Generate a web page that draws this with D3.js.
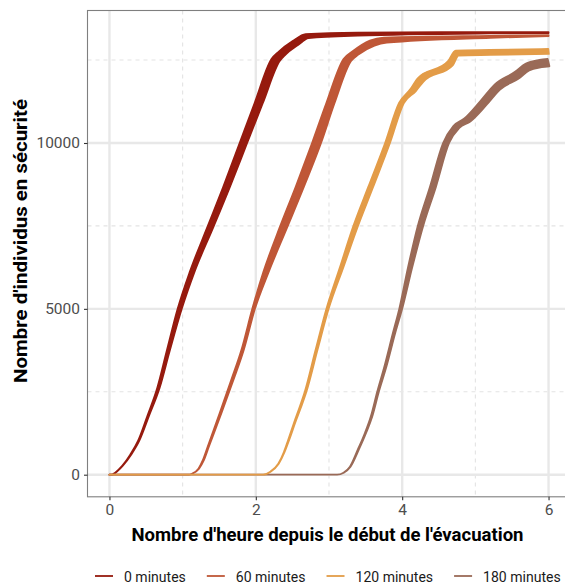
<!DOCTYPE html>
<html><head><meta charset="utf-8">
<script src="https://cdn.jsdelivr.net/npm/d3@7"></script>
<style>html,body{margin:0;padding:0;background:#fff;}svg{display:block;}</style>
</head><body>
<svg id="chart" width="565" height="584"></svg>
<script>
// ---- data ----
const scenarioLabels = ["0 minutes", "60 minutes", "120 minutes", "180 minutes"];
const xTicks = [0, 2, 4, 6];
const xMinor = [1, 3, 5];
const yTicks = [0, 5000, 10000];
const yMinor = [2500, 7500, 12500];

const hours0 = [0, 0.03, 0.08, 0.18, 0.29, 0.40, 0.53, 0.67, 0.80, 0.96, 1.13, 1.38, 1.60, 1.83, 2.04, 2.27, 2.36, 2.54, 2.70, 3.39, 5.20, 6.00];
const safe0 = [0, 0, 60, 271, 602, 1024, 1777, 2620, 3705, 5000, 6114, 7470, 8675, 10000, 11205, 12500, 12711, 13012, 13223, 13283, 13322, 13328];
const spreadH0 = [0, 0, 0.002, 0.003, 0.006, 0.008, 0.011, 0.016, 0.02, 0.028, 0.032, 0.041, 0.046, 0.051, 0.056, 0.056, 0.046, 0.036, 0.02, 0.004, 0, 0];
const spreadN0 = [0, 0, 0, 0, 0, 0, 0, 0, 0, 0, 0, 0, 0, 0, 0, 30, 45, 60, 60, 45, 20, 15];

const hours60 = [0, 1.08, 1.13, 1.22, 1.28, 1.35, 1.52, 1.68, 1.82, 1.97, 2.14, 2.38, 2.60, 2.83, 3.02, 3.25, 3.36, 3.59, 3.77, 5.20, 6.00];
const safe60 = [0, 0, 30, 181, 422, 843, 1867, 2861, 3765, 5000, 6114, 7470, 8675, 10000, 11205, 12500, 12711, 13012, 13102, 13202, 13238];
const spreadH60 = [0, 0, 0.002, 0.004, 0.007, 0.008, 0.012, 0.015, 0.016, 0.018, 0.036, 0.051, 0.056, 0.061, 0.056, 0.051, 0.041, 0.031, 0.02, 0.004, 0];
const spreadN60 = [0, 0, 0, 0, 0, 0, 0, 0, 0, 0, 0, 0, 0, 0, 0, 30, 45, 75, 75, 30, 15];

const hours120 = [0, 2.10, 2.20, 2.31, 2.39, 2.45, 2.53, 2.61, 2.68, 2.83, 2.98, 3.17, 3.36, 3.57, 3.80, 3.99, 4.15, 4.25, 4.66, 4.75, 5.20, 6.00];
const safe120 = [0, 0, 90, 331, 693, 1054, 1566, 2048, 2500, 3765, 5000, 6235, 7470, 8675, 10000, 11205, 11596, 11897, 12409, 12711, 12730, 12760];
const spreadH120 = [0, 0, 0.002, 0.003, 0.005, 0.007, 0.008, 0.01, 0.011, 0.013, 0.015, 0.023, 0.031, 0.033, 0.033, 0.033, 0.037, 0.041, 0.033, 0.02, 0.008, 0.004];
const spreadN120 = [0, 0, 0, 0, 0, 0, 0, 0, 0, 0, 0, 0, 0, 0, 0, 0, 30, 45, 60, 75, 75, 75];

const hours180 = [0, 3.11, 3.20, 3.29, 3.40, 3.50, 3.58, 3.67, 3.77, 3.89, 3.98, 4.11, 4.25, 4.42, 4.60, 4.74, 4.89, 5.11, 5.30, 5.57, 5.71, 5.89, 6.00];
const safe180 = [0, 0, 60, 241, 753, 1265, 1747, 2500, 3253, 4277, 5000, 6265, 7500, 8675, 10000, 10482, 10693, 11205, 11687, 12048, 12289, 12394, 12424];
const spreadH180 = [0, 0, 0.002, 0.004, 0.007, 0.008, 0.01, 0.011, 0.014, 0.016, 0.02, 0.029, 0.037, 0.041, 0.041, 0.041, 0.041, 0.041, 0.037, 0.033, 0.025, 0.016, 0.012];
const spreadN180 = [0, 0, 0, 0, 0, 0, 0, 0, 0, 0, 0, 0, 0, 0, 0, 30, 45, 60, 75, 90, 100, 110, 110];

const colors = ["#961A0E", "#BF5737", "#E39C48", "#9A6A57"];

// ---- build ----
const series = [
  {label: scenarioLabels[0], h: hours0, v: safe0, sh: spreadH0, sn: spreadN0, color: colors[0]},
  {label: scenarioLabels[1], h: hours60, v: safe60, sh: spreadH60, sn: spreadN60, color: colors[1]},
  {label: scenarioLabels[2], h: hours120, v: safe120, sh: spreadH120, sn: spreadN120, color: colors[2]},
  {label: scenarioLabels[3], h: hours180, v: safe180, sh: spreadH180, sn: spreadN180, color: colors[3]}
].map(s => ({...s, pts: s.h.map((h, i) => ({h, v: s.v[i], sh: s.sh[i], sn: s.sn[i]}))}));

const panel = {left: 87.5, top: 10.5, right: 570.5, bottom: 496.8};
const allH = series.flatMap(s => s.h), allV = series.flatMap(s => s.v);
const hMin = d3.min(allH), hMax = d3.max(allH), vMin = d3.min(allV), vMax = d3.max(allV);
const hPad = (hMax - hMin) * 0.05, vPad = (vMax - vMin) * 0.05;
const x = d3.scaleLinear().domain([hMin - hPad, hMax + hPad]).range([panel.left, panel.right]);
const y = d3.scaleLinear().domain([vMin - vPad, vMax + vPad]).range([panel.bottom, panel.top]);

const svg = d3.select("#chart");
svg.append("rect").attr("width", 565).attr("height", 584).attr("fill", "#fff");

const defs = svg.append("defs");
defs.append("clipPath").attr("id", "clip").append("rect")
  .attr("x", panel.left).attr("y", panel.top)
  .attr("width", panel.right - panel.left).attr("height", panel.bottom - panel.top);

const grid = svg.append("g");
grid.selectAll(".xminor").data(xMinor).join("line")
  .attr("x1", d => x(d)).attr("x2", d => x(d)).attr("y1", panel.top).attr("y2", panel.bottom)
  .attr("stroke", "#E3E3E3").attr("stroke-width", 1.1).attr("stroke-dasharray", "4,4");
grid.selectAll(".yminor").data(yMinor).join("line")
  .attr("y1", d => y(d)).attr("y2", d => y(d)).attr("x1", panel.left).attr("x2", panel.right)
  .attr("stroke", "#E3E3E3").attr("stroke-width", 1.1).attr("stroke-dasharray", "4,4");
grid.selectAll(".xmajor").data(xTicks).join("line")
  .attr("x1", d => x(d)).attr("x2", d => x(d)).attr("y1", panel.top).attr("y2", panel.bottom)
  .attr("stroke", "#E8E8E8").attr("stroke-width", 2.4);
grid.selectAll(".ymajor").data(yTicks).join("line")
  .attr("y1", d => y(d)).attr("y2", d => y(d)).attr("x1", panel.left).attr("x2", panel.right)
  .attr("stroke", "#E8E8E8").attr("stroke-width", 2.4);

const band = d3.area()
  .curve(d3.curveMonotoneX)
  .x0(d => x(d.h - d.sh)).y0(d => y(d.v + d.sn))
  .x1(d => x(d.h + d.sh)).y1(d => y(d.v - d.sn));

const drawOrder = [0, 1, 3, 2];
const plot = svg.append("g").attr("clip-path", "url(#clip)");
drawOrder.forEach(i => {
  const s = series[i];
  plot.append("path").datum(s.pts)
    .attr("d", band)
    .attr("fill", s.color).attr("stroke", s.color)
    .attr("stroke-width", 1.8).attr("stroke-linejoin", "round");
});

// panel border
svg.append("rect").attr("x", panel.left).attr("y", panel.top)
  .attr("width", panel.right - panel.left).attr("height", panel.bottom - panel.top)
  .attr("fill", "none").attr("stroke", "#7F7F7F").attr("stroke-width", 1.1);

// axes
const xAxis = d3.axisBottom(x).tickValues(xTicks).tickSize(3.5).tickPadding(4).tickFormat(d3.format("d"));
const gx = svg.append("g").attr("transform", `translate(0,${panel.bottom})`).call(xAxis);
gx.select(".domain").remove();
gx.selectAll(".tick line").attr("stroke", "#333").attr("stroke-width", 1.1);
gx.selectAll(".tick text").attr("fill", "#4D4D4D").attr("font-family", "Roboto, sans-serif").attr("font-size", 15.5);

const yAxis = d3.axisLeft(y).tickValues(yTicks).tickSize(3.5).tickPadding(4).tickFormat(d3.format("d"));
const gy = svg.append("g").attr("transform", `translate(${panel.left},0)`).call(yAxis);
gy.select(".domain").remove();
gy.selectAll(".tick line").attr("stroke", "#333").attr("stroke-width", 1.1);
gy.selectAll(".tick text").attr("fill", "#4D4D4D").attr("font-family", "Roboto, sans-serif").attr("font-size", 15.5);

// titles
svg.append("text").attr("x", (panel.left + panel.right) / 2 - 1.5).attr("y", 541)
  .attr("text-anchor", "middle").attr("font-family", "Roboto, sans-serif").attr("font-weight", "bold")
  .attr("font-size", 18.5).attr("fill", "#000")
  .attr("textLength", 392).attr("lengthAdjust", "spacingAndGlyphs")
  .text("Nombre d'heure depuis le début de l'évacuation");
svg.append("text").attr("transform", `translate(27,241) rotate(-90)`)
  .attr("text-anchor", "middle").attr("font-family", "Roboto, sans-serif").attr("font-weight", "bold")
  .attr("font-size", 18.5).attr("fill", "#000")
  .attr("textLength", 284).attr("lengthAdjust", "spacingAndGlyphs")
  .text("Nombre d'individus en sécurité");

// legend
const legend = svg.append("g");
let lx = 95;
series.forEach(s => {
  legend.append("line").attr("x1", lx).attr("x2", lx + 18).attr("y1", 576).attr("y2", 576)
    .attr("stroke", s.color).attr("stroke-width", 1.8);
  const t = legend.append("text").attr("x", lx + 29).attr("y", 581.5)
    .attr("font-family", "Roboto, sans-serif").attr("font-size", 15).attr("fill", "#1A1A1A")
    .text(s.label);
  const w = t.node().getComputedTextLength() * 0.935;
  t.attr("textLength", w).attr("lengthAdjust", "spacingAndGlyphs");
  lx = lx + 29 + w + 21;
});
</script>
</body></html>
